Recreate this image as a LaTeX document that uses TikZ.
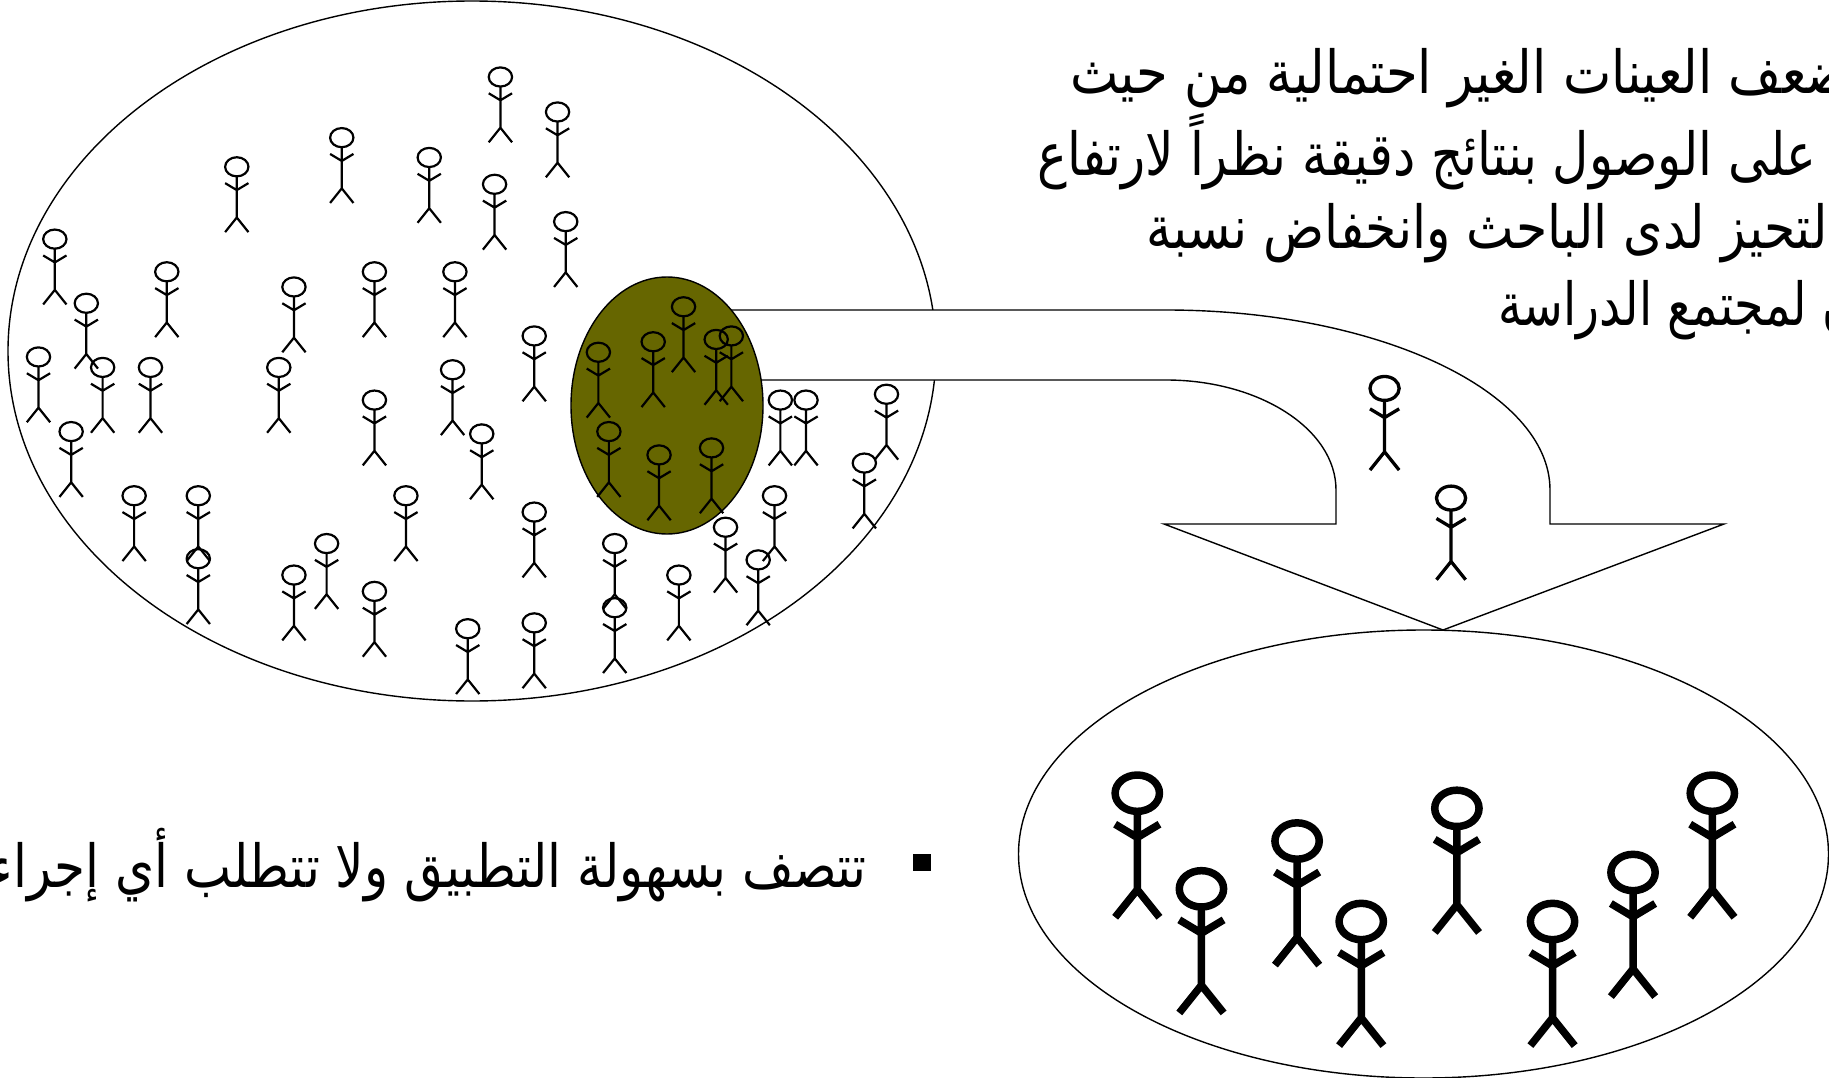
\documentclass[tikz,border=0pt]{standalone}
\usepackage{fontspec}
\TeXXeTstate=1
\newfontfamily\arabicfont[Script=Arabic]{DejaVu Sans}
\definecolor{olive}{HTML}{666600}
\tikzset{
  stickwidth/.initial=2.2pt,
  stickman/.pic={
    \draw[line width=\pgfkeysvalueof{/tikz/stickwidth}] (0,0) ellipse [x radius=10, y radius=8.2];
    \draw[line width=\pgfkeysvalueof{/tikz/stickwidth}] (0,8.2) -- (0,43.5) (-10,14) -- (0,20) -- (10,14) (-10,56) -- (0,43.5) -- (10,56);
  },
  arabictext/.style={font=\arabicfont\fontsize{49.5}{50}\selectfont, inner sep=0pt, text=black},
  outline/.style={draw=black, line width=1.4pt},
}
\begin{document}
\begin{tikzpicture}[x=1pt,y=-1pt]
\useasboundingbox (0,0) rectangle (1829,1078);
\fill[white] (0,0) rectangle (1829,1078);
\draw[outline, fill=white] (472,351) ellipse [x radius=464, y radius=350];
\draw[outline, fill=white] (1423.5,854) ellipse [x radius=405, y radius=224];
\draw[outline, fill=white] (720,310) -- (1166,310) .. controls (1377,310) and (1550,391) .. (1550,490) -- (1550,524) -- (1724,524) -- (1443,630) -- (1164,524) -- (1336,524) -- (1336,490) .. controls (1336,429) and (1259,380) .. (1166,380) -- (720,380) -- cycle;
\draw[outline, fill=olive] (667,405.5) ellipse [x radius=96, y radius=128.5];
\begin{scope}[x=1.16645pt,y=-1.16645pt]
\foreach \px/\py in {429/66,478/96,293/118,203/143,368/135,424/158,485/190,47/205,143/233,321/233,390/233,252/246,74/260,458/288,33/306,88/315,129/315,239/315,388/317,321/343,61/370,413/372,669/343,691/343,760/338,741/397,348/425,115/425,170/425,458/439,170/479,280/466,527/466,252/493,650/480,622/452,664/425,582/493,321/507,527/521,401/539,458/534,586/263,513/302,560/293,614/291,627/288,522/370,565/390,610/384}
  \pic at (\px,\py) {stickman};
\foreach \px/\py in {1187/333,1244/427}
  \pic[scale=1.25,stickwidth=3.3pt] at (\px,\py) {stickman};
\foreach \px/\py in {975/680,1030/762,1112/721,1167/790,1249/693,1331/790,1400/748,1468/680}
  \pic[scale=1.9,stickwidth=7.5pt] at (\px,\py) {stickman};
\end{scope}
\node[arabictext, anchor=west] (l1) at (1070,78) {\scalebox{1.036}[1.2]{\beginR ضعف العينات الغير احتمالية من حيث\endR}};
\node[arabictext, anchor=west] (l2) at (1037,152) {\scalebox{1.01}[1.2]{\beginR على الوصول بنتائج دقيقة نظراً لارتفاع\endR}};
\node[arabictext, anchor=west] (l3) at (1146,233) {\scalebox{1.02}[1.2]{\beginR التحيز لدى الباحث وانخفاض نسبة\endR}};
\node[arabictext, anchor=west] (l4) at (1498,310) {\scalebox{0.96}[1.2]{\beginR ن لمجتمع الدراسة\endR}};
\node[arabictext, anchor=east] (l5) at (867,865) {\scalebox{1.01}[1.2]{\beginR تتصف بسهولة التطبيق ولا تتطلب أي إجراء\endR}};
\fill[black] (913,854) rectangle (931,871);
\end{tikzpicture}
\end{document}
